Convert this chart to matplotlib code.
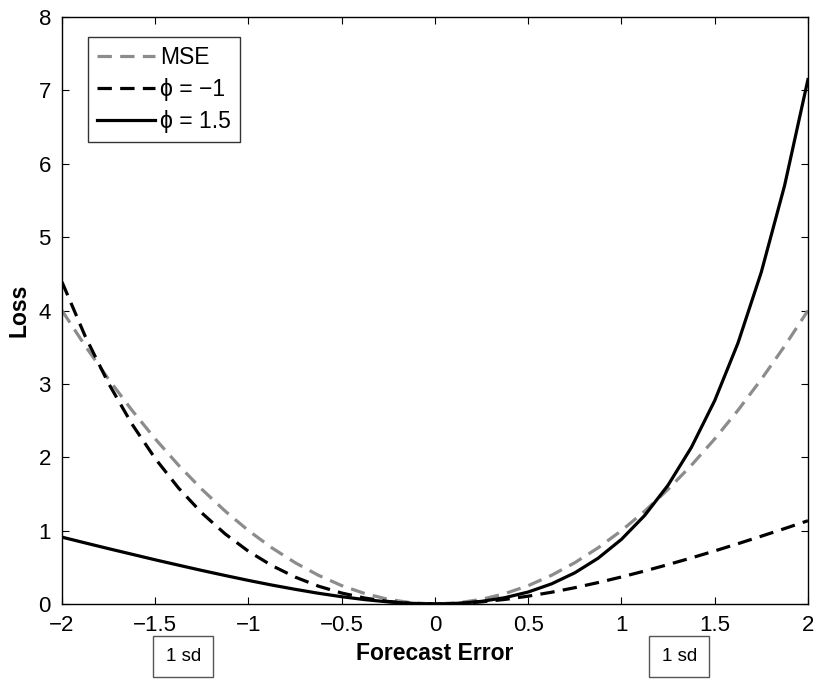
import matplotlib
matplotlib.use('Agg')
import matplotlib.pyplot as plt

plt.rcParams['font.family'] = ['Liberation Sans', 'DejaVu Sans']

# forecast error grid and the three loss curves
err = [-2, -1.875, -1.75, -1.625, -1.5, -1.375, -1.25, -1.125, -1, -0.875, -0.75, -0.625,
       -0.5, -0.375, -0.25, -0.125, 0, 0.125, 0.25, 0.375, 0.5, 0.625, 0.75, 0.875,
       1, 1.125, 1.25, 1.375, 1.5, 1.625, 1.75, 1.875, 2]
mse = [4.0, 3.516, 3.063, 2.641, 2.25, 1.891, 1.563, 1.266, 1.0, 0.766, 0.563, 0.391,
       0.25, 0.141, 0.063, 0.016, 0.0, 0.016, 0.063, 0.141, 0.25, 0.391, 0.563, 0.766,
       1.0, 1.266, 1.563, 1.891, 2.25, 2.641, 3.063, 3.516, 4.0]
phi_m1 = [4.389, 3.646, 3.005, 2.453, 1.982, 1.580, 1.240, 0.955, 0.718, 0.524, 0.367, 0.243,
          0.149, 0.080, 0.034, 0.008, 0.0, 0.0075, 0.029, 0.062, 0.1065, 0.160, 0.222, 0.292,
          0.368, 0.450, 0.537, 0.628, 0.723, 0.822, 0.924, 1.028, 1.135]
phi_15 = [0.911, 0.832, 0.754, 0.678, 0.602, 0.529, 0.457, 0.388, 0.321, 0.258, 0.200, 0.146,
          0.099, 0.059, 0.028, 0.007, 0.0, 0.008, 0.036, 0.086, 0.163, 0.274, 0.425, 0.624,
          0.881, 1.208, 1.620, 2.135, 2.772, 3.558, 4.524, 5.706, 7.149]

xticks = [-2, -1.5, -1, -0.5, 0, 0.5, 1, 1.5, 2]
xticklabels = ['\u22122', '\u22121.5', '\u22121', '\u22120.5', '0', '0.5', '1', '1.5', '2']
yticks = [0, 1, 2, 3, 4, 5, 6, 7, 8]
sd_marks = [-1.35, 1.31]

fig = plt.figure(figsize=(8.17, 6.8), dpi=100)
ax = fig.add_axes([0.0759, 0.1118, 0.913, 0.863])

ax.plot(err, mse, '--', color='#8c8c8c', lw=2.3, dashes=(4.5, 2.6), label='MSE')
ax.plot(err, phi_m1, '--', color='black', lw=2.3, dashes=(4.5, 2.6), label='\u03d5 = \u22121')
ax.plot(err, phi_15, '-', color='black', lw=2.3, label='\u03d5 = 1.5')

ax.set_xlim(-2, 2)
ax.set_ylim(0, 8)
ax.set_xticks(xticks)
ax.set_xticklabels(xticklabels)
ax.set_yticks(yticks)
ax.tick_params(direction='in', top=True, right=True, labelsize=16, length=5, pad=8)
for s in ax.spines.values():
    s.set_linewidth(1.0)

ax.set_xlabel('Forecast Error', fontsize=16.5, fontweight='bold', labelpad=4)
ax.set_ylabel('Loss', fontsize=16.5, fontweight='bold', labelpad=6)

leg = ax.legend(loc='upper left', bbox_to_anchor=(0.0349, 0.966), fontsize=16.5, frameon=True,
                fancybox=False, edgecolor='black', handlelength=2.5, handletextpad=0.25,
                borderpad=0.4, labelspacing=0.38, borderaxespad=0)
leg.get_frame().set_linewidth(1.0)

for xs in sd_marks:
    ax.text(xs, -0.09, '1 sd', transform=ax.get_xaxis_transform(), ha='center', va='center',
            fontsize=13.5, bbox=dict(boxstyle='square,pad=0.65', fc='white', ec='#555555', lw=1.0))

fig.savefig('out.png', dpi=100)
